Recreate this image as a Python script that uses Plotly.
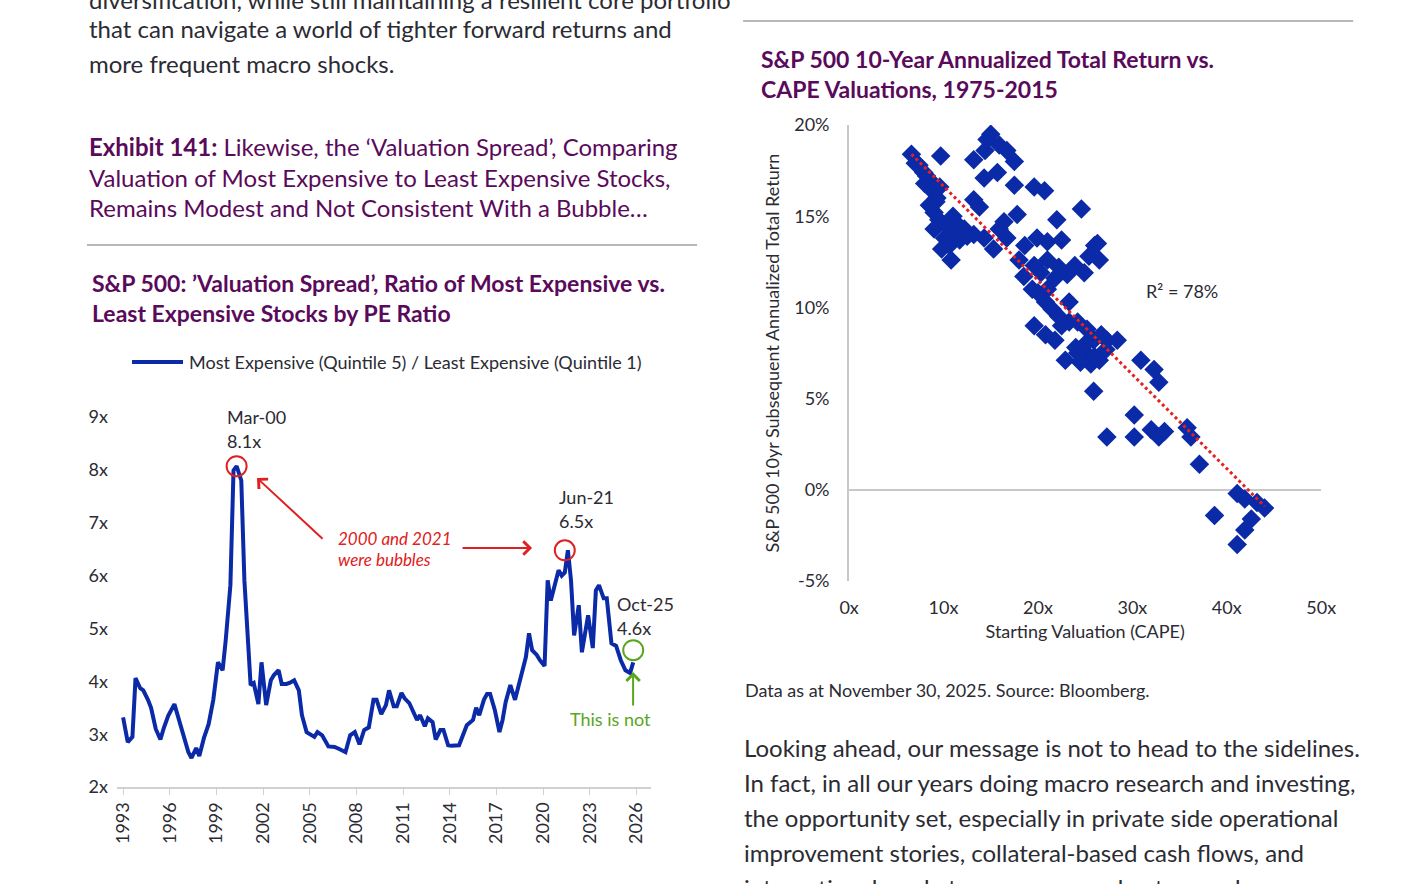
import plotly.graph_objects as go

W, H = 1401, 884
AX, BX, AY, BY = 0.982, 11.0, 0.975, 12.0
def px(x): return ((x - BX) / AX) / W
def py(y): return 1 - ((y - BY) / AY) / H

# ---- Left chart data: decimal year, ratio ----
years = [1993.0,1993.3,1993.6,1993.8,1994.1,1994.3,1994.6,1994.8,1995.1,1995.4,1995.6,1995.9,1996.3,1996.6,1996.9,1997.2,1997.4,1997.7,1997.9,1998.2,1998.5,1998.8,1999.1,1999.4,1999.6,1999.9,2000.1,2000.3,2000.6,2000.8,2001.2,2001.4,2001.7,2001.9,2002.2,2002.5,2002.7,2003.0,2003.2,2003.5,2003.7,2004.0,2004.3,2004.5,2004.8,2005.0,2005.3,2005.5,2005.8,2006.2,2006.6,2006.9,2007.3,2007.6,2007.9,2008.2,2008.5,2008.8,2009.1,2009.3,2009.6,2009.9,2010.1,2010.4,2010.6,2010.9,2011.1,2011.4,2011.6,2011.9,2012.1,2012.4,2012.6,2012.9,2013.1,2013.4,2013.6,2013.9,2014.1,2014.4,2014.6,2015.1,2015.5,2015.7,2015.9,2016.2,2016.4,2016.6,2016.9,2017.2,2017.4,2017.6,2017.9,2018.2,2018.4,2018.6,2018.9,2019.1,2019.3,2019.6,2019.8,2020.1,2020.3,2020.5,2020.8,2021.0,2021.2,2021.4,2021.6,2021.8,2022.0,2022.3,2022.5,2022.7,2022.9,2023.2,2023.4,2023.6,2023.9,2024.1,2024.4,2024.7,2025.0,2025.3,2025.6,2025.8]
ratio = [3.32,2.85,2.95,4.06,3.87,3.83,3.65,3.5,3.1,2.9,3.1,3.35,3.57,3.25,2.98,2.66,2.55,2.74,2.59,2.93,3.19,3.65,4.36,4.21,4.78,5.82,7.99,8.07,7.8,5.91,3.93,3.97,3.57,4.36,3.55,4.02,4.12,4.21,3.95,3.95,3.97,4.02,3.83,3.36,3.04,3.0,2.95,3.04,2.98,2.77,2.76,2.72,2.66,2.98,3.04,2.81,3.08,3.13,3.65,3.65,3.38,3.55,3.83,3.53,3.53,3.78,3.68,3.59,3.46,3.27,3.36,3.15,3.3,3.23,2.9,3.08,3.08,2.79,2.78,2.79,2.79,3.17,3.27,3.5,3.36,3.65,3.76,3.76,3.46,3.04,3.27,3.61,3.93,3.65,3.87,4.14,4.46,4.91,4.59,4.5,4.4,4.29,5.91,5.53,5.87,6.1,6.0,6.06,6.48,5.91,4.87,5.44,4.55,4.87,5.25,4.63,5.72,5.82,5.57,5.57,4.72,4.67,4.4,4.21,4.16,4.36,4.59]
year_ticks = list(range(1993, 2027, 3))
ratio_ticks = [2, 3, 4, 5, 6, 7, 8, 9]
peaks_x = [2000.3, 2021.4]
peaks_y = [8.07, 6.48]
now_x = [2025.8]
now_y = [4.59]

# ---- Right chart data: CAPE, 10yr return % ----
cape = [6.6,7.4,7.9,8.5,8.8,9.3,8.5,9.0,9.5,9.0,10.1,10.6,9.7,10.8,11.7,12.2,11.4,13.2,14.4,14.6,15.0,15.9,16.7,17.5,14.3,15.7,17.5,19.6,20.7,13.2,13.8,16.4,17.8,15.9,13.2,14.3,15.3,16.7,18.6,19.9,21.0,22.0,22.5,24.6,18.0,19.6,20.3,21.0,21.8,22.2,23.1,23.9,24.9,25.4,26.0,26.5,26.3,19.4,20.8,21.5,22.2,23.3,24.2,25.2,25.9,26.7,27.3,28.4,19.6,20.8,21.8,22.9,25.1,25.6,26.5,27.2,25.9,27.3,30.2,30.9,32.3,32.8,30.2,32.0,32.8,33.4,35.8,36.2,37.1,38.7,41.1,41.9,43.2,44.0,42.6,41.9,41.1,22.5,24.2,23.3,21.0,7.0,8.0,9.2,10.3,11.0,12.5,9.6,10.9,8.2,9.8,24.0,26.0,25.0,24.5,20.0,18.5]
ret = [18.4,17.8,17.4,17.0,16.4,16.0,15.6,15.2,14.8,14.3,13.8,13.4,18.3,12.6,13.7,14.3,14.6,18.1,18.6,19.2,19.5,18.9,18.6,18.0,17.1,17.4,16.7,16.6,16.4,15.9,15.5,14.7,15.1,14.3,14.0,13.8,13.2,13.8,13.4,13.8,13.6,14.8,13.7,15.4,12.6,12.3,11.9,12.6,11.6,12.2,11.8,12.3,11.9,12.8,13.4,12.6,13.5,11.0,10.3,9.9,9.5,9.2,9.2,8.8,8.2,8.5,8.2,8.2,9.0,8.5,8.2,7.1,7.5,6.9,7.1,7.7,5.4,2.9,4.1,7.1,6.6,5.9,2.9,3.3,2.9,3.2,3.4,2.9,1.4,-1.4,-0.2,-0.5,-0.7,-1.0,-1.6,-2.2,-3.0,9.0,7.5,10.3,11.0,17.9,16.8,15.8,14.5,15.0,13.9,16.6,14.0,17.2,13.2,7.8,7.3,8.0,7.0,10.8,11.7]
trend_x = [6.6, 44.0]
trend_y = [18.4, -0.9]
cape_ticks = [0, 10, 20, 30, 40, 50]
ret_ticks = [-5, 0, 5, 10, 15, 20]

BLUE = "#0a2aa8"
PURPLE = "#5a0a5a"
DARK = "#2b2b33"
FONT = "Lato"

fig = go.Figure()
fig.add_trace(go.Scatter(x=years, y=ratio, mode="lines", line=dict(color=BLUE, width=4), xaxis="x", yaxis="y", showlegend=False))
fig.add_trace(go.Scatter(x=peaks_x, y=peaks_y, mode="markers", marker=dict(symbol="circle-open", size=20, color="#e02020", line=dict(width=2)), xaxis="x", yaxis="y", showlegend=False))
fig.add_trace(go.Scatter(x=now_x, y=now_y, mode="markers", marker=dict(symbol="circle-open", size=20, color="#5aa51e", line=dict(width=2)), xaxis="x", yaxis="y", showlegend=False))
fig.add_trace(go.Scatter(x=cape, y=ret, mode="markers", marker=dict(symbol="diamond", size=15, color=BLUE), xaxis="x2", yaxis="y2", showlegend=False))
fig.add_trace(go.Scatter(x=trend_x, y=trend_y, mode="lines", line=dict(color="#e82020", width=3, dash="dot"), xaxis="x2", yaxis="y2", showlegend=False))

tick_font = dict(family=FONT, size=18, color=DARK)
fig.update_layout(
    autosize=True, margin=dict(l=0, r=0, t=0, b=0),
    paper_bgcolor="white", plot_bgcolor="white",
    font=dict(family=FONT, color=DARK),
    xaxis=dict(domain=[px(118), px(652)], anchor="y", range=[1992.61, 2026.95], tickvals=year_ticks,
               tickangle=-90, tickfont=tick_font, showgrid=False, zeroline=False,
               showline=True, linecolor="#d0d0d0", linewidth=2, ticks="outside", ticklen=6, tickcolor="#d0d0d0"),
    yaxis=dict(domain=[py(787), py(417)], anchor="x", range=[2, 9], tickvals=ratio_ticks,
               ticktext=[f"{v}x" for v in ratio_ticks], tickfont=tick_font, showgrid=False, zeroline=False,
               showline=False, ticks="", ticklabelstandoff=8),
    xaxis2=dict(domain=[px(850), px(1322)], anchor="y2", range=[0, 50], tickvals=cape_ticks,
                ticktext=[f"{v}x" for v in cape_ticks], tickfont=tick_font, showgrid=False, zeroline=False,
                showline=False, ticks="", ticklabelstandoff=14,
                title=dict(text="Starting Valuation (CAPE)", font=tick_font, standoff=8)),
    yaxis2=dict(domain=[py(581), py(125)], anchor="x2", range=[-5, 20], tickvals=ret_ticks,
                ticktext=[f"{v}%" for v in ret_ticks], tickfont=tick_font, showgrid=False,
                zeroline=True, zerolinecolor="#c8c8c8", zerolinewidth=2,
                showline=True, linecolor="#c8c8c8", linewidth=2, ticks="", ticklabelstandoff=14,
                title=dict(text="S&P 500 10yr Subsequent Annualized Total Return", font=tick_font, standoff=10)),
)

anns = []
def text(x, y, s, size=18, color=DARK, xanchor="left", **kw):
    anns.append(dict(x=px(x), y=py(y), xref="paper", yref="paper", text=s, showarrow=False,
                     xanchor=xanchor, yanchor="middle", align="left",
                     font=dict(family=FONT, size=size, color=color), **kw))

# Body text
text(88, 0, "diversification, while still maintaining a resilient core portfolio", 24)
text(88, 28, "that can navigate a world of tighter forward returns and", 24)
text(88, 63, "more frequent macro shocks.", 24)
text(88, 146, "<b>Exhibit 141:</b> Likewise, the ‘Valuation Spread’, Comparing", 24, PURPLE)
text(88, 177, "Valuation of Most Expensive to Least Expensive Stocks,", 24, PURPLE)
text(88, 207, "Remains Modest and Not Consistent With a Bubble…", 24, PURPLE)
text(91, 283, "<b>S&P 500: ’Valuation Spread’, Ratio of Most Expensive vs.</b>", 23, PURPLE)
text(91, 313, "<b>Least Expensive Stocks by PE Ratio</b>", 23, PURPLE)
text(188, 362, "Most Expensive (Quintile 5) / Least Expensive (Quintile 1)", 18)
text(760, 59, "<b>S&P 500 10-Year Annualized Total Return vs.</b>", 23, PURPLE)
text(760, 89, "<b>CAPE Valuations, 1975-2015</b>", 23, PURPLE)
text(744, 690, "Data as at November 30, 2025. Source: Bloomberg.", 18)
for i, s in enumerate(["Looking ahead, our message is not to head to the sidelines.",
                       "In fact, in all our years doing macro research and investing,",
                       "the opportunity set, especially in private side operational",
                       "improvement stories, collateral-based cash flows, and",
                       "international markets, appears as robust as we have seen"]):
    text(743, 747 + 35 * i, s, 24)

# Chart annotations
text(226, 417, "Mar-00"); text(226, 441, "8.1x")
text(558, 497, "Jun-21"); text(558, 521, "6.5x")
text(616, 604, "Oct-25"); text(616, 628, "4.6x")
text(569, 719, "This is not", 18, "#5aa51e")
text(337, 538, "<i>2000 and 2021</i>", 17, "#e02020")
text(337, 559, "<i>were bubbles</i>", 17, "#e02020")
text(1145, 291, "R² = 78%")

def arrow(x0, y0, x1, y1, color):
    anns.append(dict(x=px(x1), y=py(y1), xref="paper", yref="paper", ax=x0 - x1, ay=y0 - y1,
                     axref="pixel", ayref="pixel", showarrow=True, arrowhead=4, arrowsize=1.3,
                     arrowwidth=2, arrowcolor=color, text=""))
arrow(325, 540, 258, 478, "#e02020")
arrow(462, 548, 533, 548, "#e02020")
arrow(634, 707, 634, 672, "#5aa51e")
fig.update_layout(annotations=anns)

fig.update_layout(shapes=[
    dict(type="line", xref="paper", yref="paper", x0=px(88), x1=px(698), y0=py(245), y1=py(245), line=dict(color="#a0a0a0", width=1.5)),
    dict(type="line", xref="paper", yref="paper", x0=px(744), x1=px(1354), y0=py(21), y1=py(21), line=dict(color="#a0a0a0", width=1.5)),
    dict(type="line", xref="paper", yref="paper", x0=px(133), x1=px(184), y0=py(362), y1=py(362), line=dict(color=BLUE, width=4)),
])

fig.write_html("out.html", default_width="100vw", default_height="100vh",
               config=dict(displayModeBar=False, responsive=True),
               post_script="document.body.style.margin='0';document.body.style.overflow='hidden';document.documentElement.style.overflow='hidden';window.dispatchEvent(new Event('resize'));")
